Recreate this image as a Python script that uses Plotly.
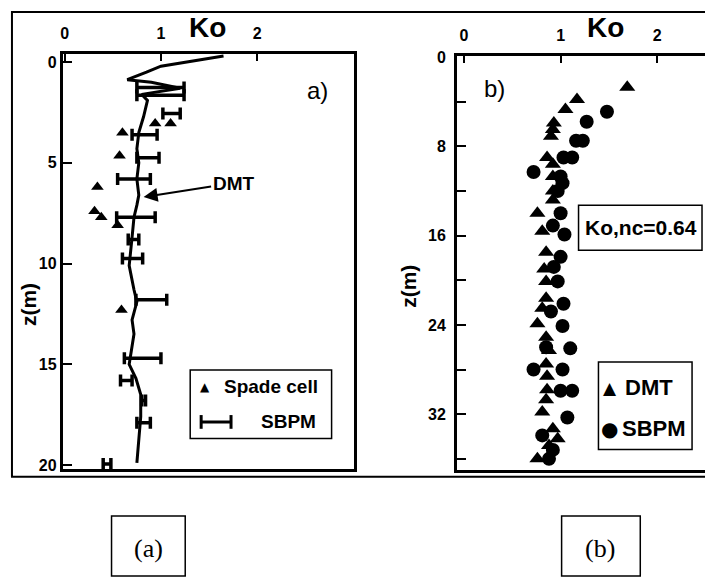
import plotly.graph_objects as go

W, H = 705, 577

# ---------------- Data: panel a ----------------
dmt_a_z = [-0.3, 0.2, 0.5, 0.87, 1.0, 1.3, 1.6, 1.9, 2.7, 3.5, 4.3, 5.0, 5.8, 6.6, 7.1, 7.7, 8.7,
           10.1, 11.3, 11.9, 12.8, 13.5, 14.4, 15.0, 15.7, 16.5, 17.6, 18.7, 19.9]
dmt_a_ko = [1.65, 1.0, 0.85, 0.65, 0.9, 1.2, 0.8, 0.86, 0.82, 0.77, 0.75, 0.77, 0.75, 0.77, 0.75, 0.72, 0.70,
            0.67, 0.72, 0.75, 0.70, 0.72, 0.69, 0.67, 0.74, 0.79, 0.79, 0.77, 0.75]

spade_z = [3.05, 3.05, 3.5, 4.65, 6.2, 7.4, 7.7, 8.1, 12.3]
spade_ko = [0.94, 1.1, 0.6, 0.57, 0.34, 0.31, 0.38, 0.55, 0.59]

sbpm_a_z = [1.26, 1.65, 2.55, 3.6, 4.75, 5.8, 7.7, 8.8, 9.75, 11.8, 14.7, 15.8, 16.8, 17.9, 19.95]
sbpm_a_min = [0.75, 0.75, 1.02, 0.70, 0.75, 0.55, 0.54, 0.66, 0.60, 0.74, 0.62, 0.58, 0.80, 0.75, 0.40]
sbpm_a_max = [1.24, 1.24, 1.20, 0.96, 0.98, 0.89, 0.94, 0.77, 0.81, 1.06, 1.00, 0.70, 0.84, 0.89, 0.48]

# ---------------- Data: panel b ----------------
dmt_b_z = [2.7, 3.8, 4.7, 5.9, 6.5, 7.1, 9.0, 9.6, 10.7, 12.0, 12.8, 14.0, 15.6, 17.5, 19.0, 20.1, 21.6,
           22.5, 23.9, 25.1, 26.3, 27.5, 28.6, 29.8, 30.7, 31.8, 33.3, 34.2, 34.8, 36.0]
dmt_b_ko = [1.69, 1.17, 1.05, 0.93, 0.92, 0.90, 0.86, 0.92, 0.92, 0.92, 0.92, 0.76, 0.81, 0.85, 0.83, 0.85, 0.85,
            0.81, 0.76, 0.85, 0.88, 0.85, 0.86, 0.86, 0.85, 0.81, 0.92, 0.97, 0.88, 0.76]

sbpm_b_z = [4.9, 5.8, 7.5, 7.5, 9.0, 9.0, 10.3, 10.7, 11.3, 12.0, 14.0, 15.1, 15.9, 17.9, 18.8, 20.1, 22.1,
            22.8, 24.1, 26.0, 26.1, 28.0, 28.0, 29.9, 29.9, 32.3, 33.9, 35.2, 36.0]
sbpm_b_ko = [1.48, 1.27, 1.23, 1.16, 1.12, 1.03, 0.72, 1.0, 1.02, 0.97, 1.0, 0.92, 1.04, 1.0, 0.93, 0.97, 1.03,
             0.90, 1.02, 0.85, 1.10, 0.72, 1.02, 1.0, 1.12, 1.07, 0.81, 0.92, 0.88]

ko_ticks = [0, 1, 2]
za_ticks = [0, 5, 10, 15, 20]
zb_ticks = [0, 4, 8, 12, 16, 20, 24, 28, 32, 36]
zb_text = ["0", "", "8", "", "16", "", "24", "", "32", ""]

# ---------------- helpers ----------------
def px(x):
    return x / W

def py(y):
    return 1 - y / H

FONT = "Liberation Sans"
SYM = "DejaVu Sans"

fig = go.Figure()

# panel a
fig.add_trace(go.Scatter(x=dmt_a_ko, y=dmt_a_z, mode="lines", line=dict(color="black", width=3),
                         xaxis="x", yaxis="y", showlegend=False))
fig.add_trace(go.Scatter(x=spade_ko, y=spade_z, mode="markers",
                         marker=dict(symbol="triangle-up", size=11, color="black"),
                         xaxis="x", yaxis="y", showlegend=False))
centers = [(a + b) / 2 for a, b in zip(sbpm_a_min, sbpm_a_max)]
halfs = [(b - a) / 2 for a, b in zip(sbpm_a_min, sbpm_a_max)]
fig.add_trace(go.Scatter(x=centers, y=sbpm_a_z, mode="markers",
                         marker=dict(size=2, color="black"),
                         error_x=dict(type="data", array=halfs, visible=True, color="black",
                                      thickness=3.5, width=6),
                         xaxis="x", yaxis="y", showlegend=False))

# panel b
fig.add_trace(go.Scatter(x=sbpm_b_ko, y=sbpm_b_z, mode="markers",
                         marker=dict(symbol="circle", size=14, color="black"),
                         xaxis="x2", yaxis="y2", showlegend=False))
fig.add_trace(go.Scatter(x=dmt_b_ko, y=dmt_b_z, mode="markers",
                         marker=dict(symbol="triangle-up", size=14, color="black"),
                         xaxis="x2", yaxis="y2", showlegend=False))

tickfont = dict(family=FONT, size=16, color="black", weight="bold")
common_x = dict(side="top", tickvals=ko_ticks, ticks="inside", ticklen=7, tickwidth=2, tickcolor="black",
                showline=True, linewidth=3, linecolor="black", mirror=True, showgrid=False,
                zeroline=False, tickfont=tickfont, ticklabelstandoff=6)
common_y = dict(ticks="inside", ticklen=9, tickwidth=2, tickcolor="black", showline=True, linewidth=3,
                linecolor="black", showgrid=False, zeroline=False, tickfont=tickfont)

fig.update_layout(
    width=W, height=H, margin=dict(l=0, r=0, t=0, b=0),
    paper_bgcolor="white", plot_bgcolor="white", showlegend=False,
    xaxis=dict(domain=[px(60), px(352)], range=[-0.02, 3.0], anchor="y", **common_x),
    yaxis=dict(domain=[py(471), py(48)], range=[20.2, -0.4], anchor="x", tickvals=za_ticks,
               mirror=True, **common_y),
    xaxis2=dict(domain=[px(456), 1.0], range=[-0.072, 2.495], anchor="y2", **common_x),
    yaxis2=dict(domain=[py(472), py(50)], range=[37.0, -0.09], anchor="x2", tickvals=zb_ticks,
                ticktext=zb_text, mirror=False, ticklabelstandoff=5, **common_y),
)

ann = []
def text(x, y, s, size, bold=True, family=FONT, xanchor="center", angle=0):
    ann.append(dict(x=px(x), y=py(y), xref="paper", yref="paper", text=s, showarrow=False,
                    xanchor=xanchor, yanchor="middle", textangle=angle,
                    font=dict(family=family, size=size, color="black",
                              weight="bold" if bold else "normal")))

text(205, 21, "Ko", 28)
text(605, 21, "Ko", 28)
text(25, 303, "z(m)", 21, angle=-90)
text(407, 285, "z(m)", 21, angle=-90)
text(316, 85, "a)", 24, bold=False)
text(494, 83, "b)", 24, bold=False)
text(641, 225, "Ko,nc=0.64", 21)
# legend a
text(203, 387, "▲", 12, family=SYM)
text(220, 387, "Spade cell", 19, xanchor="left")
text(257, 423, "SBPM", 19, xanchor="left")
# legend b
text(610, 388, "▲", 17, family=SYM)
text(623, 388, "DMT", 22, xanchor="left")
text(609, 430, "●", 20, family=SYM)
text(620, 430, "SBPM", 22, xanchor="left")
# bottom labels
text(146, 552, "(a)", 26, bold=False, family="Liberation Serif")
text(600, 552, "(b)", 26, bold=False, family="Liberation Serif")

# DMT arrow
ann.append(dict(x=0.82, y=6.7, xref="x", yref="y", text="DMT", showarrow=True, arrowhead=2,
                arrowsize=1.4, arrowwidth=2, arrowcolor="black", ax=90, ay=-14,
                font=dict(family=FONT, size=19, color="black", weight="bold")))
fig.update_layout(annotations=ann)

shapes = []
def rect(x0, y0, x1, y1, w=2):
    shapes.append(dict(type="rect", xref="paper", yref="paper", x0=px(x0), y0=py(y0), x1=px(x1), y1=py(y1),
                       line=dict(color="black", width=w)))
def line(x0, y0, x1, y1, w=3):
    shapes.append(dict(type="line", xref="paper", yref="paper", x0=px(x0), y0=py(y0), x1=px(x1), y1=py(y1),
                       line=dict(color="black", width=w)))

rect(9, 5, 730, 479, 2)
rect(188, 370, 330, 440, 1.5)
line(198, 423, 230, 423)
line(199, 416, 199, 430)
line(229, 416, 229, 430)
rect(598, 362, 692, 451, 1.5)
rect(578, 202, 702, 248, 1.5)
rect(109, 519, 183, 580, 1.5)
rect(561, 519, 640, 580, 1.5)
fig.update_layout(shapes=shapes)

fig.write_html("out.html")
